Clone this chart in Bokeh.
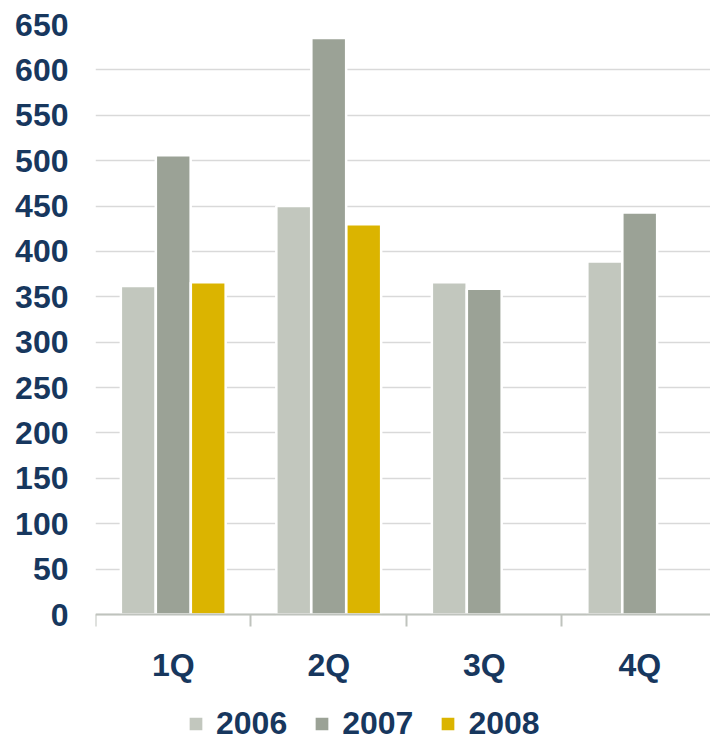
import numpy as np
from bokeh.plotting import figure
from bokeh.models import (ColumnDataSource, Range1d, FixedTicker, Legend,
                          LegendItem)
from bokeh.embed import file_html
from bokeh.resources import INLINE

# Quarterly values per year
quarters = ["1Q", "2Q", "3Q", "4Q"]
years = ["2006", "2007", "2008"]
v2006 = [362, 450, 366, 389]
v2007 = [506, 635, 359, 443]
v2008 = [366, 430, None, None]
y_ticks = list(range(0, 651, 50))

colors = ["#C2C7BE", "#9BA296", "#DBB400"]
navy = "#17375E"
font = "Liberation Sans"

centers = np.arange(len(quarters)) + 0.5
slot = 0.225

# value axis spans 0..650 over 590 px; the frame continues below zero
# to leave room for the category labels and the legend
y_top = 650
y_bottom = y_top - y_top * 718 / 590

p = figure(frame_width=615, frame_height=718, width=710, height=742,
           output_backend="svg", toolbar_location=None,
           x_range=Range1d(0, 3.955), y_range=Range1d(y_bottom, y_top),
           min_border_left=95, min_border_top=24, min_border_right=0,
           min_border_bottom=0)
p.outline_line_color = None
p.background_fill_color = "white"
p.border_fill_color = "white"

items = []
for i, (yr, vals) in enumerate(zip(years, [v2006, v2007, v2008])):
    xs = [c + (i - 1) * slot for c, v in zip(centers, vals) if v is not None]
    ys = [v for v in vals if v is not None]
    src = ColumnDataSource(dict(x=xs, top=ys))
    r = p.vbar(x="x", top="top", bottom=0, width=0.224, source=src,
               fill_color=colors[i], line_color="white", line_width=2.5)
    items.append(LegendItem(label=yr, renderers=[r]))

# y axis: labels only
p.yaxis.ticker = FixedTicker(ticks=y_ticks)
p.yaxis.axis_line_color = None
p.yaxis.major_tick_line_color = None
p.yaxis.minor_tick_line_color = None
p.yaxis.major_tick_out = 0
p.yaxis.major_tick_in = 0
p.yaxis.major_label_standoff = 27
p.yaxis.major_label_text_font = font
p.yaxis.major_label_text_font_style = "bold"
p.yaxis.major_label_text_font_size = "32px"
p.yaxis.major_label_text_color = navy

# x axis pinned at zero: category labels at centres, tick marks at boundaries
p.xaxis.fixed_location = 0
p.xaxis.ticker = FixedTicker(ticks=list(centers),
                             minor_ticks=list(np.arange(len(quarters))))
p.xaxis.major_label_overrides = {float(c): q for c, q in zip(centers, quarters)}
p.xaxis.axis_line_color = "#BFC3BD"
p.xaxis.axis_line_width = 2
p.xaxis.major_tick_line_color = None
p.xaxis.major_tick_out = 0
p.xaxis.major_tick_in = 0
p.xaxis.minor_tick_line_color = "#BFC3BD"
p.xaxis.minor_tick_line_width = 2
p.xaxis.minor_tick_out = 12
p.xaxis.minor_tick_in = 0
p.xaxis.major_label_standoff = 20
p.xaxis.major_label_text_font = font
p.xaxis.major_label_text_font_style = "bold"
p.xaxis.major_label_text_font_size = "32px"
p.xaxis.major_label_text_color = navy

p.xgrid.grid_line_color = None
p.ygrid.ticker = FixedTicker(ticks=y_ticks)
p.ygrid.grid_line_color = "#D9D9D9"
p.ygrid.grid_line_width = 1.5

legend = Legend(items=items, orientation="horizontal", location=(91, 0),
                glyph_width=19, glyph_height=19, label_standoff=11, spacing=25,
                label_text_font=font, label_text_font_style="bold",
                label_text_font_size="32px", label_text_color=navy,
                border_line_color=None, background_fill_alpha=0,
                padding=0, margin=0)
p.add_layout(legend)

open("out.html", "w").write(file_html(p, INLINE))
